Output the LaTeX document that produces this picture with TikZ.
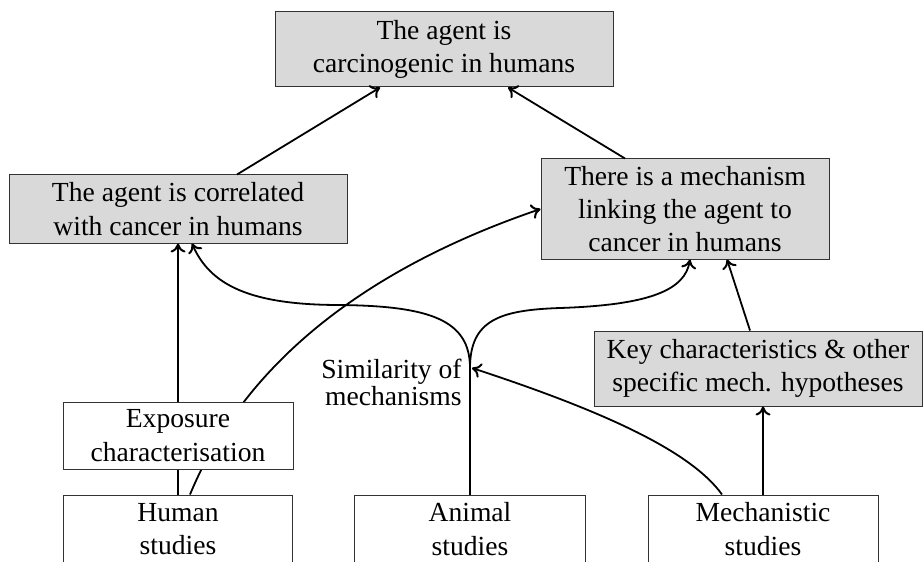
\documentclass[tikz,border=0pt]{standalone}
\usepackage{fontspec}
\setmainfont{Liberation Serif}
\usetikzlibrary{calc,arrows.meta}
\begin{document}
\begin{tikzpicture}[x=0.5pt,y=-0.5pt,
  box/.style={draw=black!80, line width=0.5pt, align=center, inner sep=0pt, font=\fontsize{13.8}{16.7}\selectfont},
  gbox/.style={box, fill=black!15},
  wbox/.style={box, fill=white},
  lbl/.style={align=right, inner sep=0pt, font=\fontsize{13.8}{10}\selectfont},
  link/.style={line width=0.9pt},
  conn/.style={link, -{To[length=4.5pt,width=7.5pt,line width=1pt]}}
]
\useasboundingbox (0,0) rectangle (924,561);
\clip (0,0) rectangle (924,561);
\node[gbox, minimum width=169pt, minimum height=37.5pt] (top) at (444,49.5) {The agent is\\carcinogenic in humans};
\node[gbox, minimum width=169pt, minimum height=34pt] (corr) at (178,209) {The agent is correlated\\with cancer in humans};
\node[gbox, minimum width=144pt, minimum height=50pt] (mech) at (685,209) {There is a mechanism\\linking the agent to\\cancer in humans};
\node[gbox, minimum width=164pt, minimum height=37.5pt] (key) at (758,368.5) {Key characteristics \& other\\specific mech. hypotheses};
\node[wbox, minimum width=114.5pt, minimum height=34pt] (human) at (178,529) {Human\\studies};
\node[wbox, minimum width=115.5pt, minimum height=34pt] (animal) at (470,529) {Animal\\studies};
\node[wbox, minimum width=115pt, minimum height=34pt] (mechst) at (763,529) {Mechanistic\\studies};
\node[lbl, anchor=east] (sim) at (462,382) {Similarity of\\mechanisms};
\coordinate (J) at (470,368);
% connectors
\draw[conn] (human.north) -- (human.north |- corr.south);
\draw[conn] ($(human.north)+(12,0)$) .. controls (250,350) and (385,262) .. (mech.west);
\draw[link] (animal.north) -- (J);
\draw[conn] (J) .. controls (470,320) and (430,306) .. (340,305) .. controls (250,305) and (210,285) .. ($(corr.south)+(14,0)$);
\draw[conn] (J) .. controls (470,320) and (500,310) .. (560,308) .. controls (650,305) and (685,290) .. ($(mech.south)+(5,0)$);
\draw[conn] ($(mechst.north)+(-41,0)$) .. controls (690,450) and (600,410) .. ($(J)+(2,0)$);
\draw[conn] (mechst.north) -- (mechst.north |- key.south);
\draw[conn] ($(key.north)+(-8,0)$) -- ($(mech.south)+(42,0)$);
\draw[conn] ($(corr.north)+(59,0)$) -- ($(top.south)+(-64,0)$);
\draw[conn] ($(mech.north)+(-60,0)$) -- ($(top.south)+(64,0)$);
\node[wbox, minimum width=115pt, minimum height=33.5pt] (expo) at (178,435.5) {Exposure\\characterisation};
\end{tikzpicture}
\end{document}
